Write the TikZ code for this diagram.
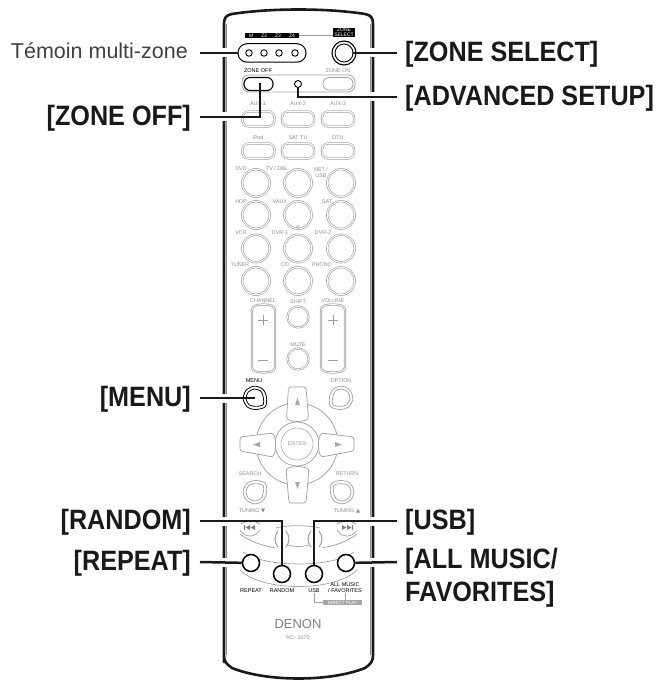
\documentclass[tikz,border=0pt]{standalone}
\usepackage{fontspec}
\setmainfont{Liberation Sans}
\newfontfamily\callfont[FakeStretch=0.9]{Liberation Sans}
\newfontfamily\symfont{DejaVu Sans}
\usetikzlibrary{positioning,calc}
\tikzset{
    hull/.style={line width=2.6pt, black!90, line join=round},
    hullin/.style={line width=0.6pt, black!45},
    gline/.style={line width=0.7pt, black!38},
    callout/.style={line width=2.5pt, black!90},
    halo/.style={line width=7pt, white},
    biglabel/.style={font=\callfont\bfseries\fontsize{28}{33}\selectfont, black!90, inner sep=0pt, align=left},
    tlabel/.style={font=\fontsize{5.4}{6}\selectfont, black!45, inner sep=0pt, align=center},
    klabel/.style={font=\fontsize{5.5}{6}\selectfont, black, inner sep=0pt, align=center},
    roundkey/.style={circle, draw=black!38, line width=0.6pt, double=white, double distance=1pt, minimum size=27.5pt, inner sep=0pt},
    smallkey/.style={circle, draw=black!38, line width=0.6pt, double=white, double distance=0.8pt, minimum size=21pt, inner sep=0pt},
    pillkey/.style={rounded corners=6pt, draw=black!38, line width=0.6pt, double=white, double distance=1pt, minimum width=32pt, minimum height=15pt, inner sep=0pt},
    darkkey/.style={circle, draw=black, line width=1.5pt, fill=white, minimum size=17pt, inner sep=0pt},
    lamp/.style={circle, draw=black, line width=0.9pt, fill=white, minimum size=6.5pt, inner sep=0pt},
    arrowkey/.style={line width=0.7pt, draw=black!38, fill=white, rounded corners=2.5pt},
    sidekey/.pic={
        \draw[pic actions] plot[smooth cycle] coordinates {(13.5,0) (8,8.3) (0,11.8) (-8.3,8.5) (-11.8,0) (-8.3,-8.5) (0,-11.8) (8,-8.3)};
        \draw[pic actions] plot[smooth cycle] coordinates {(10.5,0) (6,5.8) (0,9) (-6.4,6.4) (-9,0) (-6.4,-6.4) (0,-9) (6,-5.8)};
    },
}
\begin{document}
\begin{tikzpicture}[x=1pt, y=-1pt]
    \useasboundingbox (0,0) rectangle (659,687);

    % Remote body
    \draw[hull] (224,662) -- (224,24) .. controls (224,18) and (226,15) .. (232,14)
        .. controls (270,8) and (327,8) .. (365,14) .. controls (371,15) and (373,18) .. (373,24)
        -- (373,655) .. controls (373,661) and (371,664) .. (365,668)
        .. controls (330,682) and (267,682) .. (232,668) .. controls (226,664) and (224,661) .. (224,655) -- cycle;
    \draw[hullin] (226.5,24) -- (226.5,655);
    \draw[hullin] (370.5,24) -- (370.5,655);

    % Zone indicator
    \node[fill=black, text=white, font=\fontsize{5}{5.5}\selectfont, minimum width=54pt, minimum height=5.5pt, inner sep=0pt] (zonebar) at (272,35.5) {M\hspace{8pt}Z2\hspace{8pt}Z3\hspace{8pt}Z4};
    \node[fill=black, text=white, font=\fontsize{5}{5}\selectfont, minimum width=22pt, inner sep=0.5pt, align=center] (zoneselname) at (344,32.5) {ZONE\\[-0.5pt]SELECT};
    \draw[gline] (zonebar) -- (zonebar -| zoneselname.west);
    \node[draw=black, line width=1pt, rounded corners=9pt, minimum width=68pt, minimum height=18.5pt, inner sep=0pt] (zonepill) at (272,53) {};
    \node[lamp] (lampa) at (249,53) {};
    \node[lamp] (lampb) at (264,53) {};
    \node[lamp] (lampc) at (279,53) {};
    \node[lamp] (lampd) at (295,53) {};
    \node[circle, draw=black, line width=1.1pt, minimum size=24pt, inner sep=0pt] (zoneselring) at (344,53) {};
    \node[circle, draw=black, line width=0.9pt, minimum size=18pt, inner sep=0pt] (zonesel) at (344,53) {};

    % Zone off / zone on
    \node[klabel] (zoneofftxt) at (258,71) {ZONE OFF};
    \node[tlabel] (zoneontxt) at (338,71) {ZONE ON};
    \draw[gline, rounded corners=7pt] (258,75) -- (338,75) -- (355,75) -- (355,92) -- (242,92) -- (242,75) -- (258,75);
    \draw[gline, rounded corners=6pt] (323,77.5) rectangle (353,90);
    \draw[line width=1.1pt, rounded corners=6pt, fill=white] (244,77.5) rectangle (273,90.5);
    \coordinate (zoneoff) at (260,83);
    \node[lamp, minimum size=7pt] (advanced) at (298,84) {};

    % Source keys
    \node[tlabel] (auxatxt) at (258,104) {AUX-1};
    \node[tlabel] (auxbtxt) at (298,104) {AUX-2};
    \node[tlabel] (auxctxt) at (338,104) {AUX-3};
    \node[pillkey] (auxa) at (258.5,119) {};
    \node[pillkey] (auxb) at (298,119) {};
    \node[pillkey] (auxc) at (338,119) {};
    \node[tlabel] (ipodtxt) at (258,138) {iPod};
    \node[tlabel] (sattxt) at (298,138) {SAT TU};
    \node[tlabel] (dtutxt) at (338,138) {DTU};
    \node[pillkey] (ipod) at (258.5,151) {};
    \node[pillkey] (sattu) at (298,151) {};
    \node[pillkey] (dtu) at (338,151) {};

    \node[tlabel] (dvdtxt) at (241,169) {DVD};
    \node[tlabel] (tvtxt) at (277,169) {TV / DBL};
    \node[tlabel] (nettxt) at (321,173) {NET /\\USB};
    \node[roundkey] (dvd) at (256,183) {};
    \node[roundkey] (tvdbl) at (298,183) {};
    \node[roundkey] (netusb) at (341,183) {};
    \node[tlabel] (hdptxt) at (241,202) {HDP};
    \node[tlabel] (vauxtxt) at (280,202) {VAUX};
    \node[tlabel] (sattxtb) at (327,202) {SAT};
    \node[roundkey] (hdp) at (256,215) {};
    \node[roundkey] (vaux) at (298,215) {};
    \node[roundkey] (sat) at (341,215) {};
    \node[circle, draw=black!38, line width=0.5pt, inner sep=1pt, fill=white] (vauxdot) at (298,227) {};
    \node[tlabel] (vcrtxt) at (241,233) {VCR};
    \node[tlabel] (dvratxt) at (280,233) {DVR-1};
    \node[tlabel] (dvrbtxt) at (323,233) {DVR-2};
    \node[roundkey] (vcr) at (256,248.5) {};
    \node[roundkey] (dvra) at (298,248.5) {};
    \node[roundkey] (dvrb) at (341,248.5) {};
    \node[tlabel] (tunertxt) at (240,265) {TUNER};
    \node[tlabel] (cdtxt) at (285,265) {CD};
    \node[tlabel] (phonotxt) at (322,265) {PHONO};
    \node[roundkey] (tuner) at (256,281) {};
    \node[roundkey] (cd) at (298,281) {};
    \node[roundkey] (phono) at (341,281) {};

    % Channel, volume, shift, mute
    \node[tlabel] (chantxt) at (263,300.5) {CHANNEL};
    \node[tlabel] (voltxt) at (333,300.5) {VOLUME};
    \node[tlabel] (shifttxt) at (298,302) {SHIFT};
    \node[tlabel] (mutetxt) at (298,344.5) {MUTE};
    \draw[gline, rounded corners=3pt, double=white, double distance=0.7pt] (252,307) .. controls (259,304) and (268,304) .. (275,307) -- (275,370) .. controls (268,373) and (259,373) .. (252,370) -- cycle;
    \draw[gline, rounded corners=3pt, double=white, double distance=0.7pt] (321,307) .. controls (328,304) and (338,304) .. (345,307) -- (345,370) .. controls (338,373) and (328,373) .. (321,370) -- cycle;
    \draw[gline, line width=0.9pt] (258,320) -- (268,320) (263,315) -- (263,325) (258,360) -- (268,360);
    \draw[gline, line width=0.9pt] (328,320) -- (338,320) (333,315) -- (333,325) (328,360) -- (338,360);
    \node[smallkey] (shift) at (298,317) {};
    \node[smallkey] (mute) at (298,359) {};

    % Cursor cross
    \draw[gline] (297,444) circle (41);
    \node[circle, draw=black!38, line width=0.7pt, fill=white, minimum size=44pt, inner sep=0pt] (enterring) at (297,444) {};
    \node[circle, draw=black!38, line width=0.5pt, fill=white, minimum size=32pt, inner sep=0pt, font=\fontsize{5.5}{6}\selectfont, text=black!40] (enter) at (297,444) {ENTER};
    \draw[arrowkey] (288.5,387) -- (306,387) -- (308.5,419) .. controls (302,422) and (293,422) .. (286.5,419) -- cycle;
    \draw[arrowkey] (286,469) .. controls (293,466) and (302,466) .. (309,469) -- (306,503) -- (289,503) -- cycle;
    \draw[arrowkey] (240,437) -- (273,433) .. controls (276,440) and (276,450) .. (273,457) -- (240,451) -- cycle;
    \draw[arrowkey] (354,437) -- (321,433) .. controls (318,440) and (318,450) .. (321,457) -- (354,451) -- cycle;
    \fill[black!35] (295,405) -- (300,405) -- (297.5,398) -- cycle;
    \fill[black!35] (295,482) -- (300,482) -- (297.5,489) -- cycle;
    \fill[black!35] (260,442) -- (260,447) -- (253,444.5) -- cycle;
    \fill[black!35] (335,442) -- (335,447) -- (342,444.5) -- cycle;

    % Side keys
    \node[klabel] (menutxt) at (254,381) {MENU};
    \node[tlabel] (optiontxt) at (341,381) {OPTION};
    \node[tlabel] (searchtxt) at (250,474) {SEARCH};
    \node[tlabel] (returntxt) at (347,474) {RETURN};
    \pic[draw=black, line width=0.8pt, rotate=-40] at (255,398) {sidekey};
    \pic[draw=black!38, line width=0.7pt, rotate=-140] at (341,398) {sidekey};
    \pic[draw=black!38, line width=0.7pt, rotate=40] at (255,492) {sidekey};
    \pic[draw=black!38, line width=0.7pt, rotate=140] at (342,492) {sidekey};
    \coordinate (menu) at (255,398);

    % Transport keys
    \node[tlabel] (tundowntxt) at (252,511) {TUNING {\symfont ▼}};
    \node[tlabel] (tunuptxt) at (347,511) {TUNING {\symfont ▲}};
    \draw[gline] (240,530) .. controls (245,538) and (255,538) .. (260,530);
    \draw[gline] (337,530) .. controls (342,538) and (352,538) .. (357,530);
    \draw[gline] (241,524) .. controls (248,520) and (254,520) .. (260,524);
    \draw[gline] (337,524) .. controls (344,520) and (350,520) .. (356,524);
    \draw[gline] (240,534) .. controls (255,545) and (268,546) .. (275,548);
    \draw[gline] (357,534) .. controls (342,545) and (330,546) .. (322,548);
    \draw[gline] (276,528) .. controls (285,525) and (310,525) .. (320,528);
    \draw[gline] (288,545) .. controls (295,547) and (302,547) .. (309,545);
    \draw[gline, line width=1pt] (278,531) .. controls (274,536) and (274,542) .. (278,547);
    \draw[gline, line width=1pt] (286,531) .. controls (290,536) and (290,542) .. (286,547);
    \draw[gline, line width=1pt] (311,531) .. controls (307,536) and (307,542) .. (311,547);
    \draw[gline, line width=1pt] (319,531) .. controls (323,536) and (323,542) .. (319,547);
    % Skip icons
    \fill[black!50] (244,525) rectangle (245,530) (250,525) -- (250,530) -- (245.5,527.5) -- cycle (255,525) -- (255,530) -- (250.5,527.5) -- cycle;
    \fill[black!50] (352,525) rectangle (353,530) (347,525) -- (347,530) -- (351.5,527.5) -- cycle (342,525) -- (342,530) -- (346.5,527.5) -- cycle;

    % Bottom keys
    \draw[gline] (243,552) .. controls (265,568) and (332,568) .. (354,552);
    \draw[gline] (240,570) .. controls (262,592) and (335,592) .. (357,570);
    \node[darkkey] (repeat) at (251,563) {};
    \node[darkkey] (random) at (282,574) {};
    \node[darkkey] (usb) at (314,574) {};
    \node[darkkey] (allmusic) at (346,563) {};
    \node[klabel] (repeattxt) at (251,591) {REPEAT};
    \node[klabel] (randomtxt) at (282,591) {RANDOM};
    \node[klabel] (usbtxt) at (314,591) {USB};
    \node[klabel] (allmusictxt) at (345,588) {ALL MUSIC\\/ FAVORITES};
    \node[fill=black!35, text=white, font=\fontsize{4.5}{5}\selectfont, minimum width=39pt, minimum height=5.5pt, inner sep=0pt] (directplay) at (342.5,602.5) {DIRECT PLAY};
    \draw[gline, line width=0.5pt] (usbtxt) |- (directplay);
    \draw[gline, line width=0.5pt] (allmusictxt) -- (allmusictxt |- directplay.north);
    \node[font=\fontsize{13}{14}\selectfont, black!50] (denon) at (298,624) {DENON};
    \node[tlabel] (modeltxt) at (298,638) {RC- 1070};

    % White gaps in the hull
    \draw[halo] (224,48.5) -- (224,57.5) (224,112.5) -- (224,121.5) (224,393.5) -- (224,402.5) (224,516.5) -- (224,525.5) (224,557.5) -- (224,566.5);
    \draw[halo] (373,48.5) -- (373,57.5) (373,92.5) -- (373,101.5) (373,516.5) -- (373,525.5) (373,557.5) -- (373,566.5);

    % Label ends
    \coordinate (temoinend) at (200,53);
    \coordinate (zoneoffend) at (200,117);
    \coordinate (menuend) at (200,398);
    \coordinate (randomend) at (200,521);
    \coordinate (repeatend) at (200,562);
    \coordinate (zoneselend) at (397,53);
    \coordinate (advancedend) at (397,97);
    \coordinate (usbend) at (397,521);
    \coordinate (allmusicend) at (397,562);

    % Labels
    \node[anchor=east, font=\fontsize{21.5}{24}\selectfont, black!75, inner sep=0pt] (temoin) at (188,51) {Témoin multi-zone};
    \node[biglabel, anchor=east] (zoneofflbl) at ([xshift=-9pt,yshift=-1pt]zoneoffend) {[ZONE OFF]};
    \node[biglabel, anchor=east] (menulbl) at ([xshift=-9pt,yshift=-1pt]menuend) {[MENU]};
    \node[biglabel, anchor=east] (randomlbl) at ([xshift=-9pt,yshift=-1pt]randomend) {[RANDOM]};
    \node[biglabel, anchor=east] (repeatlbl) at ([xshift=-9pt,yshift=-1pt]repeatend) {[REPEAT]};
    \node[biglabel, anchor=west] (zonesellbl) at ([xshift=8pt,yshift=-1pt]zoneselend) {[ZONE SELECT]};
    \node[biglabel, anchor=west] (advancedlbl) at ([xshift=8pt,yshift=-1pt]advancedend) {[ADVANCED SETUP]};
    \node[biglabel, anchor=west] (usblbl) at ([xshift=8pt,yshift=-1pt]usbend) {[USB]};
    \node[biglabel, anchor=north west] (allmusiclbl) at ([xshift=8pt,yshift=14pt]allmusicend) {[ALL MUSIC/\\FAVORITES]};

    % Connectors
    \draw[callout] (temoinend) -- (zonepill.west);
    \draw[callout] (zoneoffend) -| (zoneoff);
    \draw[callout] (menuend) -- (menu);
    \draw[callout] (randomend) -| (random);
    \draw[callout] (repeatend) -- (repeat);
    \draw[callout] (zoneselend) -- (zonesel);
    \draw[callout] (advancedend) -| (advanced);
    \draw[callout] (usbend) -| (usb);
    \draw[callout] (allmusicend) -- (allmusic);
\end{tikzpicture}
\end{document}
